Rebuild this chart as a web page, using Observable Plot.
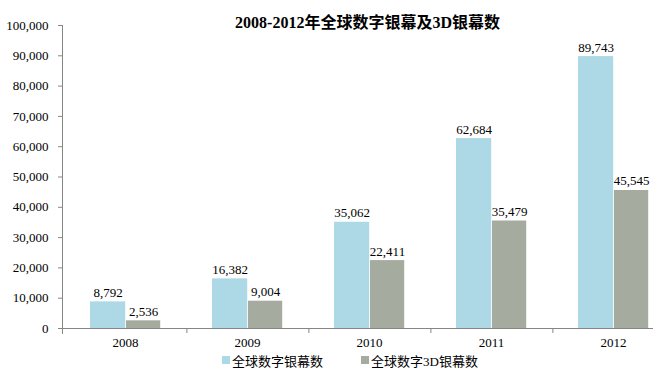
<!DOCTYPE html>
<html><head><meta charset="utf-8">
<script src="https://cdn.jsdelivr.net/npm/d3@7"></script>
<script src="https://cdn.jsdelivr.net/npm/@observablehq/plot@0.6"></script>
<style>
body{margin:0;background:#fff;font-family:"Liberation Serif","Noto Sans CJK SC",serif;}
#legend{display:flex;align-items:center;height:16px;padding-left:222px;font-size:13px;color:#000;}
.item{display:flex;align-items:center;margin-right:38px;}
.sw{width:8px;height:8px;margin-right:2px;}
</style></head><body><div id="chart"></div><div id="legend"></div>
<script>
const years = ["2008","2009","2010","2011","2012"];
const digitalScreens = [8792,16382,35062,62684,89743];
const screens3D = [2536,9004,22411,35479,45545];
const seriesNames = ["全球数字银幕数","全球数字3D银幕数"];
const seriesColors = ["#add8e6","#a5ab9f"];
const yTicks = [0,10000,20000,30000,40000,50000,60000,70000,80000,90000,100000];
const title = "2008-2012年全球数字银幕及3D银幕数";

const blue = years.map((y,i)=>({year:y, value:digitalScreens[i]}));
const gray = years.map((y,i)=>({year:y, value:screens3D[i]}));
const W=653, H=352, x0=62, bw=122.8, x1=x0+5*bw;
const fmt = d3.format(",");
const font = '"Liberation Serif","Noto Sans CJK SC",serif';
const axisColor = "#868686";

const chart = Plot.plot({
  width:W, height:H, marginLeft:62, marginRight:0, marginTop:25, marginBottom:24,
  style:{fontFamily:font, fontSize:"13px", color:"#000", background:"#fff", overflow:"hidden"},
  x:{type:"band", domain:years, range:[x0,x1], padding:0, label:null},
  y:{domain:[0,100000], label:null},
  marks:[
    Plot.barY(blue,{x:"year", y:"value", fill:seriesColors[0], insetLeft:26, insetRight:60.8}),
    Plot.barY(gray,{x:"year", y:"value", fill:seriesColors[1], insetLeft:62, insetRight:25.8}),
    Plot.text(blue,{x:"year", y:"value", text:d=>fmt(d.value), dx:-17.4, dy:-5, lineAnchor:"bottom", fill:"#000", fontSize:13}),
    Plot.text(gray,{x:"year", y:"value", text:d=>fmt(d.value), dx:18, dy:-5, lineAnchor:"bottom", fill:"#000", fontSize:13}),
    Plot.frame({anchor:"left", stroke:axisColor, insetBottom:-5}),
    Plot.ruleY([0],{stroke:axisColor}),
    Plot.axisY({ticks:yTicks, tickSize:4, tickPadding:10, tickFormat:fmt, stroke:axisColor, fill:"#000", fontSize:13}),
    Plot.axisX({tickSize:0, tickPadding:9, fill:"#000", fontSize:13}),
    Plot.axisX({ticks:years, tickSize:5, dx:bw/2, tickFormat:()=>"", stroke:axisColor}),
    Plot.text([title],{frameAnchor:"top", dx:9.5, dy:-3, lineAnchor:"middle", fontWeight:"bold", fontSize:16, fill:"#000"})
  ]
});
document.getElementById("chart").appendChild(chart);

const legend = document.getElementById("legend");
seriesNames.forEach((name,i)=>{
  const item = document.createElement("div"); item.className="item";
  const sw = document.createElement("div"); sw.className="sw"; sw.style.background=seriesColors[i];
  const t = document.createElement("span"); t.textContent=name;
  item.appendChild(sw); item.appendChild(t); legend.appendChild(item);
});
</script></body></html>
